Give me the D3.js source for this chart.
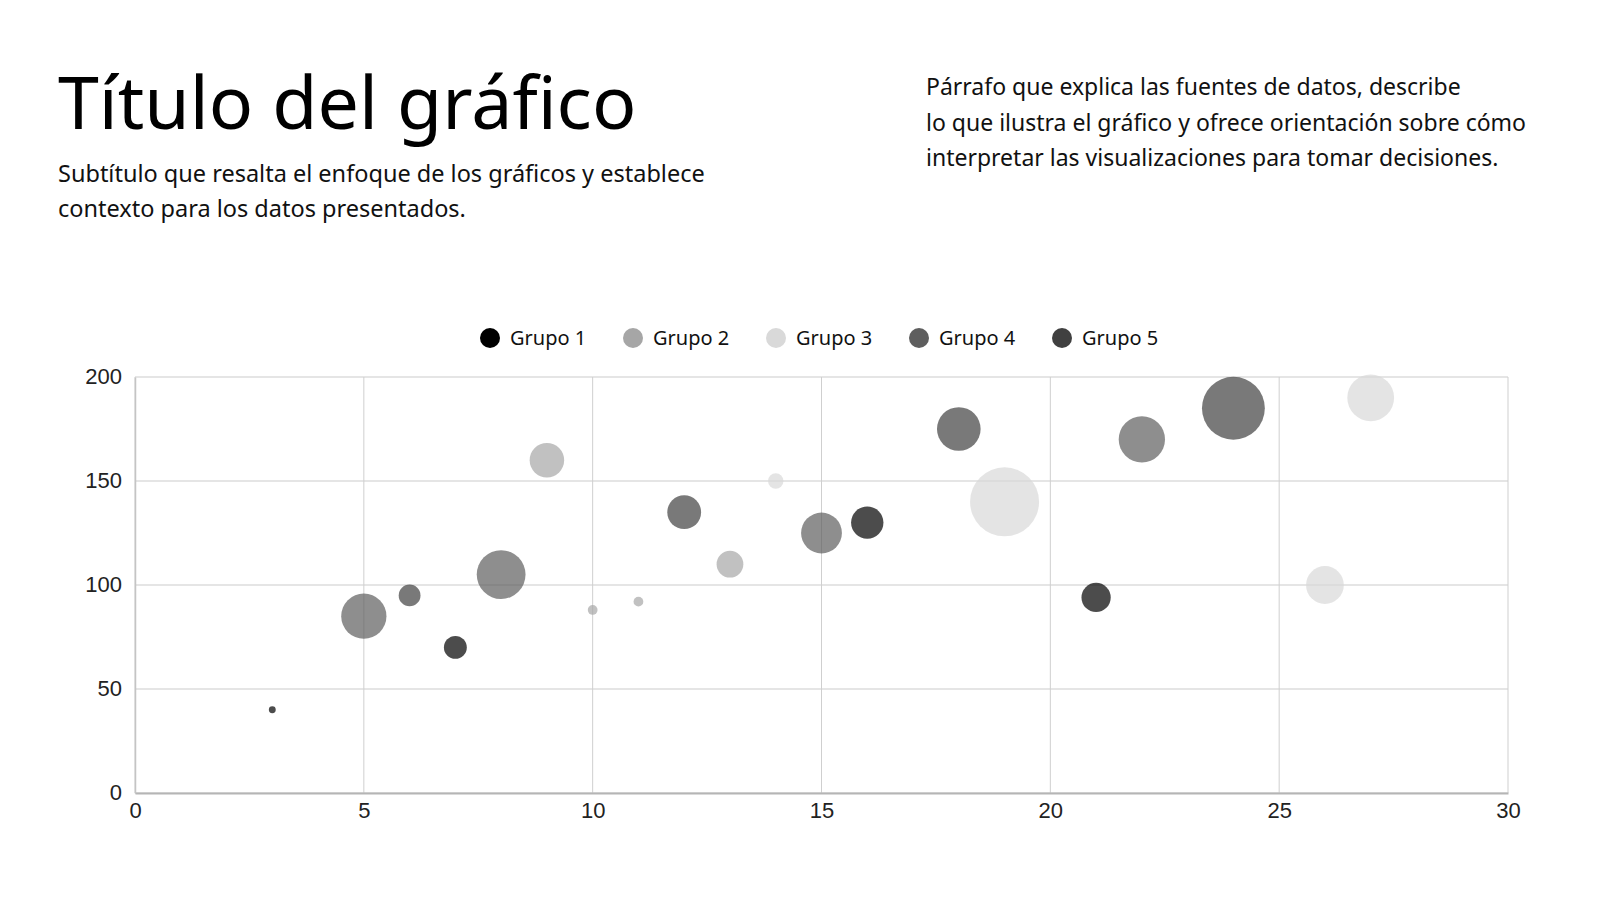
<!DOCTYPE html>
<html lang="es">
<head>
  <meta charset="utf-8"/>
  <title>Título del gráfico</title>
  <script src="https://cdn.jsdelivr.net/npm/d3@7/dist/d3.min.js"></script>
  <style>
    html, body { margin:0; padding:0; background:#fff; overflow:hidden; }
    svg { display:block; font-family:"Noto Sans", sans-serif; }
    .axis text { font-family:"Liberation Sans", Arial, sans-serif; font-size:22px; fill:#222; }
  </style>
</head>
<body>
  <svg width="1600" height="900"></svg>

  <script>
  // Datos: x, y y tamaño de cada burbuja por grupo
  const groups  = ["Grupo 1", "Grupo 2", "Grupo 3", "Grupo 4", "Grupo 5"];
  const colors  = ["#000000", "#a6a6a6", "#d9d9d9", "#5e5e5e", "#404040"];
  const g1 = [[3, 40, 1], [7, 70, 11], [16, 130, 22], [21, 94, 18]];
  const g2 = [[9, 160, 25], [10, 88, 2], [11, 92, 2], [13, 110, 15]];
  const g3 = [[14, 150, 5], [19, 140, 100], [26, 100, 30], [27, 190, 46]];
  const g4 = [[5, 85, 43], [8, 105, 50], [15, 125, 35], [22, 170, 45]];
  const g5 = [[6, 95, 10], [12, 135, 24], [18, 175, 40], [24, 185, 83]];
  const series  = [g1, g2, g3, g4, g5];
  const xTicks  = [0, 5, 10, 15, 20, 25, 30];
  const yTicks  = [0, 50, 100, 150, 200];

  const svg = d3.select("svg");

  // Cabecera
  svg.append("text").attr("x", 58).attr("y", 129)
    .attr("font-size", 73.5).attr("fill", "#000")
    .text("Título del gráfico");
  const sub = ["Subtítulo que resalta el enfoque de los gráficos y establece",
               "contexto para los datos presentados."];
  svg.selectAll(".sub").data(sub).join("text")
    .attr("x", 58).attr("y", (d, i) => 182 + i * 35)
    .attr("font-size", 23.5).attr("fill", "#111").text(d => d);
  const par = ["Párrafo que explica las fuentes de datos, describe",
               "lo que ilustra el gráfico y ofrece orientación sobre cómo",
               "interpretar las visualizaciones para tomar decisiones."];
  svg.selectAll(".par").data(par).join("text")
    .attr("x", 926).attr("y", (d, i) => 95 + i * 35.5)
    .attr("font-size", 23).attr("fill", "#111").text(d => d);

  // Leyenda
  const leg = svg.selectAll(".leg").data(groups).join("g")
    .attr("transform", (d, i) => `translate(${490 + i * 143},338)`);
  leg.append("circle").attr("r", 10).attr("fill", (d, i) => colors[i]);
  leg.append("text").attr("x", 20).attr("y", 7)
    .attr("font-size", 20).attr("fill", "#111").text(d => d);

  // Escalas
  const m = {l: 135, r: 1508, t: 377, b: 793};
  const x = d3.scaleLinear().domain([0, 30]).range([m.l, m.r]);
  const y = d3.scaleLinear().domain([0, 200]).range([m.b, m.t]);
  const allSizes = series.flat().map(d => d[2]);
  const rS = d3.scaleSqrt().domain([0, d3.max(allSizes)]).range([0, 34.5]);

  // Rejilla
  svg.append("g").selectAll("line").data(yTicks).join("line")
    .attr("x1", m.l).attr("x2", m.r).attr("y1", y).attr("y2", y)
    .attr("stroke", "#dcdcdc").attr("stroke-width", 1.3);
  svg.append("g").selectAll("line").data(xTicks).join("line")
    .attr("x1", x).attr("x2", x).attr("y1", m.t).attr("y2", m.b)
    .attr("stroke", "#cfcfcf").attr("stroke-width", 1);

  // Ejes
  const xAxis = svg.append("g").attr("class", "axis")
    .attr("transform", `translate(0,${m.b})`)
    .call(d3.axisBottom(x).tickValues(xTicks).tickSize(0).tickPadding(9));
  xAxis.select(".domain").attr("stroke", "#b5b5b5").attr("stroke-width", 2);
  const yAxis = svg.append("g").attr("class", "axis")
    .attr("transform", `translate(${m.l},0)`)
    .call(d3.axisLeft(y).tickValues(yTicks).tickSize(0).tickPadding(13));
  yAxis.select(".domain").attr("stroke", "#c4c4c4").attr("stroke-width", 1.5);
  yAxis.selectAll("text").attr("dy", "0.3em");

  // Burbujas
  series.forEach((s, i) => {
    svg.append("g").selectAll("circle").data(s).join("circle")
      .attr("cx", d => x(d[0])).attr("cy", d => y(d[1]))
      .attr("r", d => rS(d[2]))
      .attr("fill", colors[i]).attr("fill-opacity", 0.7);
  });
  </script>
</body>
</html>
